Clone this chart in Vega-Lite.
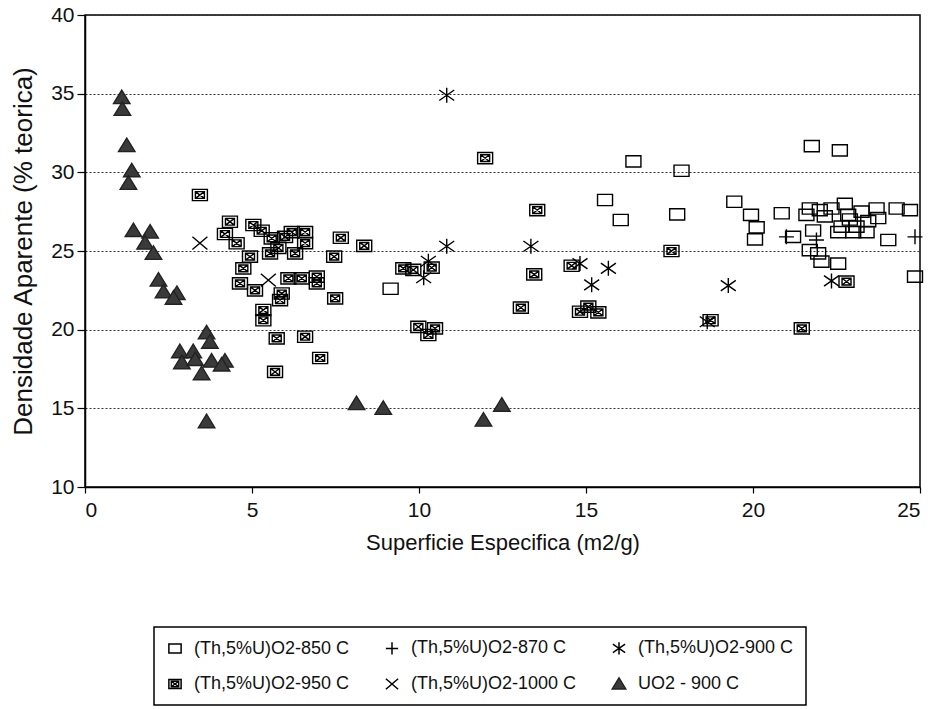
{
  "$schema": "https://vega.github.io/schema/vega-lite/v6.json",
  "width": 835,
  "height": 472,
  "autosize": {"type": "none"},
  "padding": {"left": 85, "top": 15, "right": 16, "bottom": 222},
  "background": "white",
  "data": {
    "values": [
      {"x": 1.10, "y": 34.75, "s": "UO2 - 900 C"},
      {"x": 1.12, "y": 34.0, "s": "UO2 - 900 C"},
      {"x": 1.25, "y": 31.7, "s": "UO2 - 900 C"},
      {"x": 1.40, "y": 30.1, "s": "UO2 - 900 C"},
      {"x": 1.30, "y": 29.3, "s": "UO2 - 900 C"},
      {"x": 1.45, "y": 26.3, "s": "UO2 - 900 C"},
      {"x": 1.95, "y": 26.2, "s": "UO2 - 900 C"},
      {"x": 1.80, "y": 25.5, "s": "UO2 - 900 C"},
      {"x": 2.05, "y": 24.85, "s": "UO2 - 900 C"},
      {"x": 2.20, "y": 23.15, "s": "UO2 - 900 C"},
      {"x": 2.35, "y": 22.4, "s": "UO2 - 900 C"},
      {"x": 2.75, "y": 22.3, "s": "UO2 - 900 C"},
      {"x": 2.65, "y": 22.0, "s": "UO2 - 900 C"},
      {"x": 3.64, "y": 19.8, "s": "UO2 - 900 C"},
      {"x": 3.74, "y": 19.2, "s": "UO2 - 900 C"},
      {"x": 2.84, "y": 18.6, "s": "UO2 - 900 C"},
      {"x": 3.24, "y": 18.6, "s": "UO2 - 900 C"},
      {"x": 2.90, "y": 17.9, "s": "UO2 - 900 C"},
      {"x": 3.30, "y": 18.1, "s": "UO2 - 900 C"},
      {"x": 3.79, "y": 18.0, "s": "UO2 - 900 C"},
      {"x": 4.19, "y": 18.0, "s": "UO2 - 900 C"},
      {"x": 3.49, "y": 17.2, "s": "UO2 - 900 C"},
      {"x": 4.09, "y": 17.75, "s": "UO2 - 900 C"},
      {"x": 3.64, "y": 14.15, "s": "UO2 - 900 C"},
      {"x": 8.13, "y": 15.3, "s": "UO2 - 900 C"},
      {"x": 8.93, "y": 15.0, "s": "UO2 - 900 C"},
      {"x": 11.93, "y": 14.25, "s": "UO2 - 900 C"},
      {"x": 12.48, "y": 15.2, "s": "UO2 - 900 C"},

      {"x": 3.44, "y": 25.5, "s": "(Th,5%U)O2-1000 C"},
      {"x": 5.49, "y": 23.15, "s": "(Th,5%U)O2-1000 C"},

      {"x": 10.83, "y": 34.9, "s": "(Th,5%U)O2-900 C"},
      {"x": 10.83, "y": 25.3, "s": "(Th,5%U)O2-900 C"},
      {"x": 10.28, "y": 24.35, "s": "(Th,5%U)O2-900 C"},
      {"x": 10.14, "y": 23.3, "s": "(Th,5%U)O2-900 C"},
      {"x": 13.35, "y": 25.3, "s": "(Th,5%U)O2-900 C"},
      {"x": 14.82, "y": 24.2, "s": "(Th,5%U)O2-900 C"},
      {"x": 15.67, "y": 23.9, "s": "(Th,5%U)O2-900 C"},
      {"x": 15.17, "y": 22.85, "s": "(Th,5%U)O2-900 C"},
      {"x": 19.26, "y": 22.8, "s": "(Th,5%U)O2-900 C"},
      {"x": 18.63, "y": 20.5, "s": "(Th,5%U)O2-900 C"},
      {"x": 22.35, "y": 23.1, "s": "(Th,5%U)O2-900 C"},

      {"x": 24.85, "y": 25.9, "s": "(Th,5%U)O2-870 C"},
      {"x": 21.0, "y": 25.9, "s": "(Th,5%U)O2-870 C"},
      {"x": 21.9, "y": 25.7, "s": "(Th,5%U)O2-870 C"},

      {"x": 9.15, "y": 22.6, "s": "(Th,5%U)O2-850 C"},
      {"x": 15.57, "y": 28.24, "s": "(Th,5%U)O2-850 C"},
      {"x": 16.04, "y": 26.97, "s": "(Th,5%U)O2-850 C"},
      {"x": 16.42, "y": 30.7, "s": "(Th,5%U)O2-850 C"},
      {"x": 17.86, "y": 30.1, "s": "(Th,5%U)O2-850 C"},
      {"x": 17.73, "y": 27.33, "s": "(Th,5%U)O2-850 C"},
      {"x": 19.44, "y": 28.13, "s": "(Th,5%U)O2-850 C"},
      {"x": 19.94, "y": 27.3, "s": "(Th,5%U)O2-850 C"},
      {"x": 20.11, "y": 26.5, "s": "(Th,5%U)O2-850 C"},
      {"x": 20.06, "y": 25.74, "s": "(Th,5%U)O2-850 C"},
      {"x": 20.86, "y": 27.4, "s": "(Th,5%U)O2-850 C"},
      {"x": 21.2, "y": 25.9, "s": "(Th,5%U)O2-850 C"},
      {"x": 21.76, "y": 31.67, "s": "(Th,5%U)O2-850 C"},
      {"x": 22.6, "y": 31.4, "s": "(Th,5%U)O2-850 C"},
      {"x": 21.7, "y": 27.7, "s": "(Th,5%U)O2-850 C"},
      {"x": 21.6, "y": 27.3, "s": "(Th,5%U)O2-850 C"},
      {"x": 22.0, "y": 27.6, "s": "(Th,5%U)O2-850 C"},
      {"x": 22.35, "y": 27.7, "s": "(Th,5%U)O2-850 C"},
      {"x": 22.15, "y": 27.2, "s": "(Th,5%U)O2-850 C"},
      {"x": 22.75, "y": 28.0, "s": "(Th,5%U)O2-850 C"},
      {"x": 22.85, "y": 27.3, "s": "(Th,5%U)O2-850 C"},
      {"x": 22.65, "y": 26.55, "s": "(Th,5%U)O2-850 C"},
      {"x": 23.25, "y": 27.5, "s": "(Th,5%U)O2-850 C"},
      {"x": 23.7, "y": 27.7, "s": "(Th,5%U)O2-850 C"},
      {"x": 23.75, "y": 27.1, "s": "(Th,5%U)O2-850 C"},
      {"x": 23.45, "y": 26.9, "s": "(Th,5%U)O2-850 C"},
      {"x": 23.4, "y": 26.2, "s": "(Th,5%U)O2-850 C"},
      {"x": 23.1, "y": 26.55, "s": "(Th,5%U)O2-850 C"},
      {"x": 24.3, "y": 27.7, "s": "(Th,5%U)O2-850 C"},
      {"x": 24.7, "y": 27.6, "s": "(Th,5%U)O2-850 C"},
      {"x": 24.05, "y": 25.7, "s": "(Th,5%U)O2-850 C"},
      {"x": 21.8, "y": 26.3, "s": "(Th,5%U)O2-850 C"},
      {"x": 22.55, "y": 26.2, "s": "(Th,5%U)O2-850 C"},
      {"x": 21.7, "y": 25.06, "s": "(Th,5%U)O2-850 C"},
      {"x": 21.95, "y": 24.85, "s": "(Th,5%U)O2-850 C"},
      {"x": 22.05, "y": 24.32, "s": "(Th,5%U)O2-850 C"},
      {"x": 22.55, "y": 24.2, "s": "(Th,5%U)O2-850 C"},
      {"x": 24.85, "y": 23.37, "s": "(Th,5%U)O2-850 C"},
      {"x": 22.9, "y": 27.0, "s": "(Th,5%U)O2-850 C"},
      {"x": 23.0, "y": 26.2, "s": "(Th,5%U)O2-850 C"},

      {"x": 3.44, "y": 28.56, "s": "(Th,5%U)O2-950 C"},
      {"x": 4.34, "y": 26.86, "s": "(Th,5%U)O2-950 C"},
      {"x": 4.19, "y": 26.08, "s": "(Th,5%U)O2-950 C"},
      {"x": 4.54, "y": 25.49, "s": "(Th,5%U)O2-950 C"},
      {"x": 5.04, "y": 26.65, "s": "(Th,5%U)O2-950 C"},
      {"x": 5.29, "y": 26.29, "s": "(Th,5%U)O2-950 C"},
      {"x": 4.94, "y": 24.64, "s": "(Th,5%U)O2-950 C"},
      {"x": 4.74, "y": 23.9, "s": "(Th,5%U)O2-950 C"},
      {"x": 4.64, "y": 22.94, "s": "(Th,5%U)O2-950 C"},
      {"x": 5.09, "y": 22.5, "s": "(Th,5%U)O2-950 C"},
      {"x": 5.59, "y": 25.8, "s": "(Th,5%U)O2-950 C"},
      {"x": 5.54, "y": 24.85, "s": "(Th,5%U)O2-950 C"},
      {"x": 5.99, "y": 25.9, "s": "(Th,5%U)O2-950 C"},
      {"x": 6.19, "y": 26.2, "s": "(Th,5%U)O2-950 C"},
      {"x": 6.59, "y": 26.2, "s": "(Th,5%U)O2-950 C"},
      {"x": 6.59, "y": 25.5, "s": "(Th,5%U)O2-950 C"},
      {"x": 6.29, "y": 24.85, "s": "(Th,5%U)O2-950 C"},
      {"x": 5.79, "y": 25.2, "s": "(Th,5%U)O2-950 C"},
      {"x": 6.09, "y": 23.26, "s": "(Th,5%U)O2-950 C"},
      {"x": 6.49, "y": 23.26, "s": "(Th,5%U)O2-950 C"},
      {"x": 6.94, "y": 23.37, "s": "(Th,5%U)O2-950 C"},
      {"x": 6.94, "y": 22.94, "s": "(Th,5%U)O2-950 C"},
      {"x": 5.89, "y": 22.3, "s": "(Th,5%U)O2-950 C"},
      {"x": 5.84, "y": 21.88, "s": "(Th,5%U)O2-950 C"},
      {"x": 5.34, "y": 21.25, "s": "(Th,5%U)O2-950 C"},
      {"x": 5.34, "y": 20.6, "s": "(Th,5%U)O2-950 C"},
      {"x": 5.74, "y": 19.45, "s": "(Th,5%U)O2-950 C"},
      {"x": 6.59, "y": 19.55, "s": "(Th,5%U)O2-950 C"},
      {"x": 7.04, "y": 18.2, "s": "(Th,5%U)O2-950 C"},
      {"x": 5.69, "y": 17.32, "s": "(Th,5%U)O2-950 C"},
      {"x": 7.66, "y": 25.84, "s": "(Th,5%U)O2-950 C"},
      {"x": 8.36, "y": 25.33, "s": "(Th,5%U)O2-950 C"},
      {"x": 7.46, "y": 24.64, "s": "(Th,5%U)O2-950 C"},
      {"x": 7.49, "y": 21.99, "s": "(Th,5%U)O2-950 C"},
      {"x": 9.53, "y": 23.9, "s": "(Th,5%U)O2-950 C"},
      {"x": 9.83, "y": 23.8, "s": "(Th,5%U)O2-950 C"},
      {"x": 10.38, "y": 23.94, "s": "(Th,5%U)O2-950 C"},
      {"x": 9.98, "y": 20.18, "s": "(Th,5%U)O2-950 C"},
      {"x": 10.48, "y": 20.08, "s": "(Th,5%U)O2-950 C"},
      {"x": 10.28, "y": 19.66, "s": "(Th,5%U)O2-950 C"},
      {"x": 11.98, "y": 30.9, "s": "(Th,5%U)O2-950 C"},
      {"x": 13.54, "y": 27.6, "s": "(Th,5%U)O2-950 C"},
      {"x": 13.45, "y": 23.51, "s": "(Th,5%U)O2-950 C"},
      {"x": 13.05, "y": 21.4, "s": "(Th,5%U)O2-950 C"},
      {"x": 14.57, "y": 24.06, "s": "(Th,5%U)O2-950 C"},
      {"x": 14.82, "y": 21.14, "s": "(Th,5%U)O2-950 C"},
      {"x": 15.07, "y": 21.46, "s": "(Th,5%U)O2-950 C"},
      {"x": 15.37, "y": 21.1, "s": "(Th,5%U)O2-950 C"},
      {"x": 17.56, "y": 25.0, "s": "(Th,5%U)O2-950 C"},
      {"x": 18.73, "y": 20.6, "s": "(Th,5%U)O2-950 C"},
      {"x": 21.46, "y": 20.08, "s": "(Th,5%U)O2-950 C"},
      {"x": 22.8, "y": 23.05, "s": "(Th,5%U)O2-950 C"}
    ]
  },
  "mark": {"type": "point", "filled": true, "strokeWidth": 1.4, "opacity": 1, "size": 225},
  "encoding": {
    "x": {
      "field": "x", "type": "quantitative",
      "scale": {"domain": [0, 25], "nice": false, "zero": false},
      "axis": {"values": [0, 5, 10, 15, 20, 25], "title": "Superficie Especifica (m2/g)", "grid": false,
               "tickSize": 6, "labelPadding": 6, "titleFont": "Liberation Sans", "titleFontSize": 22, "titlePadding": 12}
    },
    "y": {
      "field": "y", "type": "quantitative",
      "scale": {"domain": [10, 40], "nice": false, "zero": false},
      "axis": {"values": [10, 15, 20, 25, 30, 35, 40], "title": "Densidade Aparente (% teorica)", "grid": true,
               "gridDash": [2, 2], "gridColor": "#333", "gridWidth": 1, "tickSize": 8, "labelPadding": 3,
               "titleFont": "Liberation Sans", "titleFontSize": 26, "titlePadding": 14}
    },
    "shape": {
      "field": "s", "type": "nominal",
      "scale": {
        "domain": ["(Th,5%U)O2-850 C", "(Th,5%U)O2-870 C", "(Th,5%U)O2-900 C", "(Th,5%U)O2-950 C", "(Th,5%U)O2-1000 C", "UO2 - 900 C"],
        "range": [
          "M-1,-0.75H1V0.75H-1Z",
          "M-1,0H1M0,-1V1",
          "M0,-1V1M-1,-0.7L1,0.7M-1,0.7L1,-0.7",
          "M-1,-0.75H1V0.75H-1ZM-0.6,-0.45H0.6V0.45H-0.6ZM-0.6,-0.45L0.6,0.45M-0.6,0.45L0.6,-0.45",
          "M-1,-0.85L1,0.85M-1,0.85L1,-0.85",
          "M0,-1L1.1,0.8L-1.1,0.8Z"
        ]
      },
      "legend": {"title": null}
    },
    "fill": {
      "field": "s", "type": "nominal",
      "scale": {
        "domain": ["(Th,5%U)O2-850 C", "(Th,5%U)O2-870 C", "(Th,5%U)O2-900 C", "(Th,5%U)O2-950 C", "(Th,5%U)O2-1000 C", "UO2 - 900 C"],
        "range": ["transparent", "transparent", "transparent", "transparent", "transparent", "#3a3a3a"]
      },
      "legend": {"title": null}
    },
    "stroke": {
      "field": "s", "type": "nominal",
      "scale": {
        "domain": ["(Th,5%U)O2-850 C", "(Th,5%U)O2-870 C", "(Th,5%U)O2-900 C", "(Th,5%U)O2-950 C", "(Th,5%U)O2-1000 C", "UO2 - 900 C"],
        "range": ["black", "black", "black", "black", "black", "#222"]
      },
      "legend": {"title": null}
    }
  },
  "config": {
    "view": {"stroke": "black", "strokeWidth": 1.5},
    "axis": {
      "domainColor": "black", "domainWidth": 1.5, "tickColor": "black", "tickWidth": 1.2,
      "labelFont": "Liberation Sans", "labelFontSize": 21, "labelColor": "#111",
      "titleColor": "#111", "titleFontWeight": "normal"
    },
    "legend": {
      "orient": "none", "legendX": 69, "legendY": 612, "columns": 3, "direction": "horizontal",
      "strokeColor": "black", "strokeWidth": 1.5, "padding": 12,
      "labelFont": "Liberation Sans", "labelFontSize": 18, "labelColor": "#111", "labelOffset": 10, "labelLimit": 400,
      "symbolSize": 150, "symbolStrokeWidth": 1.5,
      "columnPadding": 32, "rowPadding": 16
    }
  }
}
